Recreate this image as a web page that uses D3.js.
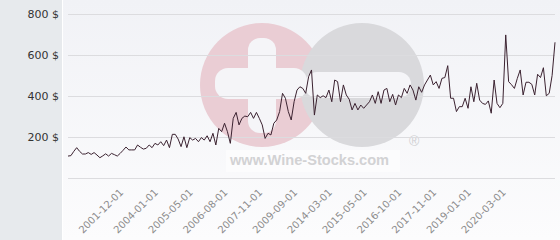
<!DOCTYPE html>
<html>
<head>
<meta charset="utf-8">
<script src="https://cdn.jsdelivr.net/npm/d3@7/dist/d3.min.js"></script>
<style>
    body { margin: 0; background: #fff; }
    svg { display: block; font-family: "DejaVu Sans", Verdana, sans-serif; }
</style>
</head>
<body>
<script>

// price per bottle, one point per listing date
const prices = [
    107,109,130,148,130,117,117,124,115,124,112,99,108,118,107,120,114,107,120,135,151,137,137,137,161,150,141,
    145,161,148,169,161,177,158,185,148,213,213,190,153,201,148,197,185,193,177,197,185,206,177,218,161,242,226,267,226,169,291,
    320,259,291,302,299,320,291,320,291,259,193,218,210,267,283,324,413,389,324,283,372,429,445,437,413,494,527,307,
    405,392,401,392,429,372,478,470,372,454,405,384,332,364,332,356,340,356,372,405,364,421,364,429,437,372,
    408,356,405,392,437,413,454,429,380,445,418,454,478,502,454,470,437,486,490,548,
    389,389,324,348,348,389,340,445,372,462,380,364,359,376,316,478,364,343,364,698,470,455,437,486,527,405,
    467,467,457,405,506,490,538,401,413,500,662
]

const yTicks = [200, 400, 600, 800]
const tickLabels = [
    '2001-12-01', '2004-01-01', '2005-05-01', '2006-08-01', '2007-11-01', '2009-09-01',
    '2014-03-01', '2015-05-01', '2016-10-01', '2017-11-01', '2019-01-01', '2020-03-01'
]
const firstLabel = 20
const labelStep = 12

window.onload = function(){
    chart.draw()
}

class chart {

    static width = 560
    static height = 240
    static plot = {left: 68, right: 555, top: 14, bottom: 178}

    static draw(){
        const svg = d3.select('body').append('svg')
            .attr('width', this.width)
            .attr('height', this.height)

        this.x = d3.scalePoint()
            .domain(d3.range(prices.length))
            .range([this.plot.left, this.plot.right])

        this.y = d3.scaleLinear()
            .domain([0, 800])
            .range([this.plot.bottom, this.plot.top])

        this.background(svg)
        this.watermark(svg)
        this.grid(svg)
        this.xLabels(svg)
        this.series(svg)
    }

    static background(svg){
        const grad = svg.append('defs').append('linearGradient')
            .attr('id', 'plotBg')
            .attr('x1', 0).attr('y1', 0).attr('x2', 0).attr('y2', 1)
        grad.append('stop').attr('offset', '0%').attr('stop-color', '#f1f2f6')
        grad.append('stop').attr('offset', '100%').attr('stop-color', '#fcfcfd')

        svg.append('rect')
            .attr('width', this.width).attr('height', this.height)
            .attr('fill', 'url(#plotBg)')

        svg.append('rect')
            .attr('width', 62).attr('height', this.height)
            .attr('fill', '#e7eaed')

        svg.append('line')
            .attr('x1', 62.5).attr('x2', 62.5)
            .attr('y1', 0).attr('y2', this.height)
            .attr('stroke', '#ffffff')
    }

    static watermark(svg){
        const g = svg.append('g').attr('class', 'watermark')
        const holes = '#f5f5f8'

        g.append('circle').attr('cx', 262).attr('cy', 85).attr('r', 62).attr('fill', '#eacdd4')
        g.append('circle').attr('cx', 362).attr('cy', 85).attr('r', 62).attr('fill', '#d9d9dc')

        // plus
        g.append('rect').attr('x', 248).attr('y', 38).attr('width', 28).attr('height', 95)
            .attr('rx', 12).attr('fill', holes)
        g.append('rect').attr('x', 215).attr('y', 68).attr('width', 92).attr('height', 31)
            .attr('rx', 13).attr('fill', holes)
        // minus
        g.append('rect').attr('x', 305).attr('y', 72).attr('width', 106).attr('height', 26)
            .attr('rx', 12).attr('fill', holes)

        g.append('rect').attr('x', 226).attr('y', 150).attr('width', 174).attr('height', 22)
            .attr('fill', '#ffffff').attr('opacity', 0.55)

        g.append('text')
            .attr('x', 230).attr('y', 165)
            .style('font-family', '"Liberation Sans", Arial, sans-serif')
            .style('font-weight', 'bold')
            .style('font-size', '14.6px')
            .attr('fill', '#d2d2d4')
            .text('www.Wine-Stocks.com')

        g.append('text')
            .attr('x', 409).attr('y', 146)
            .style('font-family', '"Liberation Sans", Arial, sans-serif')
            .style('font-size', '14px')
            .attr('fill', '#cfcfd2')
            .text('®')
    }

    static grid(svg){
        const ticks = [0].concat(yTicks)

        svg.append('g').selectAll('line')
            .data(ticks)
            .join('line')
            .attr('x1', this.plot.left).attr('x2', this.plot.right)
            .attr('y1', d => Math.round(this.y(d)) + 0.5)
            .attr('y2', d => Math.round(this.y(d)) + 0.5)
            .attr('stroke', '#dcdcdf')

        svg.append('g').selectAll('text')
            .data(yTicks)
            .join('text')
            .attr('x', 59)
            .attr('y', d => Math.round(this.y(d)) + 4)
            .attr('text-anchor', 'end')
            .style('font-size', '11px')
            .attr('fill', '#333')
            .text(d => d + ' $')
    }

    static xLabels(svg){
        svg.append('g').selectAll('text')
            .data(tickLabels)
            .join('text')
            .attr('transform', (d, i) => {
                const px = this.x(firstLabel + i * labelStep)
                return d3Helper.getTranslateString(px - 2, 193) + ' rotate(-45)'
            })
            .attr('text-anchor', 'end')
            .style('font-size', '10px')
            .attr('fill', '#8c8c8c')
            .text(d => d)
    }

    static series(svg){
        const line = d3.line()
            .x((d, i) => this.x(i))
            .y(d => this.y(d))

        svg.append('path')
            .datum(prices)
            .attr('d', line)
            .attr('fill', 'none')
            .attr('stroke', '#3b2230')
            .attr('stroke-width', 1)
            .attr('stroke-linejoin', 'round')
    }
}

class d3Helper {
    static getTranslateString(x, y){
        return "translate(" + x + "," + y + ")"
    }
}
</script>
</body>
</html>
